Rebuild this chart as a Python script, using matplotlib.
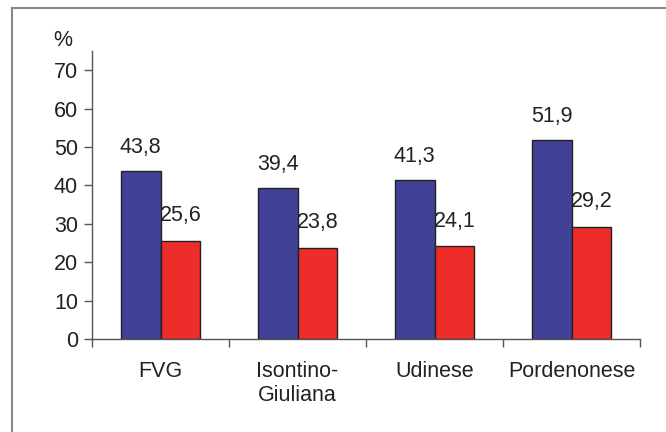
import numpy as np
import matplotlib.pyplot as plt
from matplotlib.lines import Line2D

plt.rcParams['font.family'] = ['Liberation Sans', 'DejaVu Sans']

# data
categories = ['FVG', 'Isontino-\nGiuliana', 'Udinese', 'Pordenonese']
blue_values = [43.8, 39.4, 41.3, 51.9]
red_values = [25.6, 23.8, 24.1, 29.2]
y_ticks = [0, 10, 20, 30, 40, 50, 60, 70]

blue = '#414198'
red = '#ee2c2a'
text_col = '#222222'
axis_col = '#555555'
fs = 15.5

fig = plt.figure(figsize=(6.66, 4.32), dpi=100)
ax = fig.add_axes([92 / 666, 93 / 432, 548 / 666, 288 / 432])

x = np.arange(len(categories))
w = 0.29
ax.bar(x - w / 2, blue_values, w, color=blue, edgecolor='#222222', linewidth=1)
ax.bar(x + w / 2, red_values, w, color=red, edgecolor='#222222', linewidth=1)

# value labels above bars
for i in range(len(categories)):
    ax.text(x[i] - w / 2, blue_values[i] + 3.4, f'{blue_values[i]:.1f}'.replace('.', ','),
            ha='center', va='bottom', fontsize=fs, color=text_col)
    ax.text(x[i] + w / 2, red_values[i] + 3.8, f'{red_values[i]:.1f}'.replace('.', ','),
            ha='center', va='bottom', fontsize=fs, color=text_col)

ax.set_xlim(-0.5, len(categories) - 0.5)
ax.set_ylim(0, 75)
ax.set_yticks(y_ticks)
ax.tick_params(axis='y', labelsize=fs, labelcolor=text_col, color=axis_col,
               length=6, width=1, pad=4)

# category boundaries as ticks, names as minor ticks in the middle
ax.set_xticks(np.arange(len(categories) + 1) - 0.5)
ax.set_xticklabels([])
ax.set_xticks(x, minor=True)
ax.set_xticklabels(categories, minor=True, fontsize=fs, color=text_col,
                   linespacing=1.15)
ax.tick_params(axis='x', which='major', color=axis_col, length=6, width=1)
ax.tick_params(axis='x', which='minor', length=0, pad=16)

for s in ['top', 'right']:
    ax.spines[s].set_visible(False)
for s in ['left', 'bottom']:
    ax.spines[s].set_color(axis_col)
    ax.spines[s].set_linewidth(1)

fig.text(63 / 666, 1 - 40 / 432, '%', fontsize=fs, color=text_col,
         ha='center', va='center')

# outer frame (top and left edges visible)
fig.add_artist(Line2D([12 / 666, 1], [1 - 8 / 432, 1 - 8 / 432],
                      transform=fig.transFigure, color='#888888', lw=1.5))
fig.add_artist(Line2D([12 / 666, 12 / 666], [0, 1 - 8 / 432],
                      transform=fig.transFigure, color='#888888', lw=1.5))

fig.savefig('out.png', dpi=100)
